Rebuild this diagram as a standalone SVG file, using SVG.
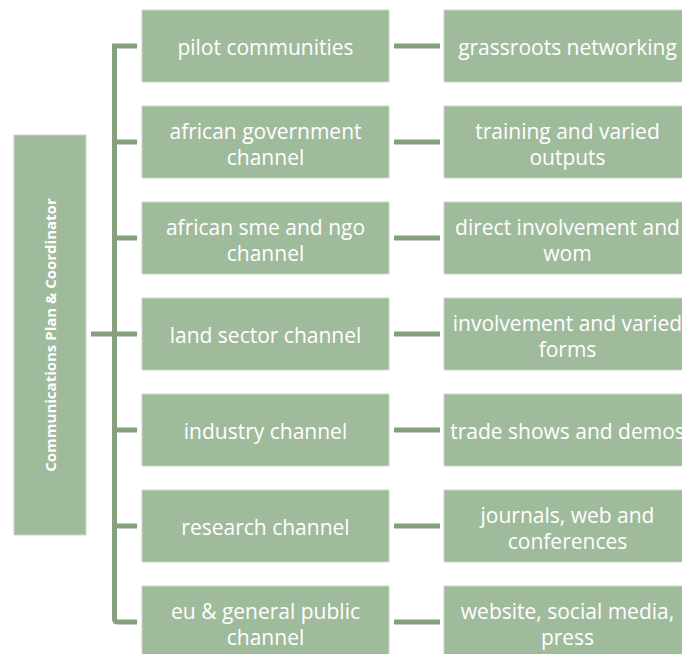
<svg xmlns="http://www.w3.org/2000/svg" width="682" height="654" viewBox="0 0 682 654">
<style>
.box{fill:#a0bb9c;stroke:#c9d8c6;stroke-width:1}
.t{fill:#ffffff;font-family:"Open Sans","DejaVu Sans",sans-serif;font-size:21px;text-anchor:middle}
.v{fill:#ffffff;font-family:"Open Sans","DejaVu Sans",sans-serif;font-size:15px;font-weight:bold;text-anchor:middle}
.c{fill:none;stroke:#84a07f;stroke-width:5}
</style>
<rect width="682" height="654" fill="#ffffff"/>
<g id="connectors">
<path class="c" d="M137,46 H114.5 V619 Q114.5,622 118,622 H137"/>
<path class="c" d="M91,334 H137"/>
<path class="c" d="M114,142 H137 M114,238 H137 M114,430 H137 M114,526 H137"/>
<path class="c" d="M394,46 H440 M394,142 H440 M394,238 H440 M394,334 H440 M394,430 H440 M394,526 H440 M394,622 H440"/>
</g>
<g id="root"><rect class="box" x="14" y="135" width="72" height="400"/><text class="v" transform="translate(56,335) rotate(-90)">Communications Plan &amp; Coordinator</text></g>
<g id="n1"><rect class="box" x="142" y="10" width="247" height="72"/><text class="t" x="265.5" y="55">pilot communities</text></g>
<g id="n2"><rect class="box" x="142" y="106" width="247" height="72"/><text class="t" x="265.5" y="139">african government</text><text class="t" x="265.5" y="165">channel</text></g>
<g id="n3"><rect class="box" x="142" y="202" width="247" height="72"/><text class="t" x="265.5" y="235">african sme and ngo</text><text class="t" x="265.5" y="261">channel</text></g>
<g id="n4"><rect class="box" x="142" y="298" width="247" height="72"/><text class="t" x="265.5" y="343">land sector channel</text></g>
<g id="n5"><rect class="box" x="142" y="394" width="247" height="72"/><text class="t" x="265.5" y="439">industry channel</text></g>
<g id="n6"><rect class="box" x="142" y="490" width="247" height="72"/><text class="t" x="265.5" y="535">research channel</text></g>
<g id="n7"><rect class="box" x="142" y="586" width="247" height="72"/><text class="t" x="265.5" y="619">eu &amp; general public</text><text class="t" x="265.5" y="645">channel</text></g>
<g id="m1"><rect class="box" x="444" y="10" width="247" height="72"/><text class="t" x="567.5" y="55">grassroots networking</text></g>
<g id="m2"><rect class="box" x="444" y="106" width="247" height="72"/><text class="t" x="567.5" y="139">training and varied</text><text class="t" x="567.5" y="165">outputs</text></g>
<g id="m3"><rect class="box" x="444" y="202" width="247" height="72"/><text class="t" x="567.5" y="235">direct involvement and</text><text class="t" x="567.5" y="261">wom</text></g>
<g id="m4"><rect class="box" x="444" y="298" width="247" height="72"/><text class="t" x="567.5" y="331">involvement and varied</text><text class="t" x="567.5" y="357">forms</text></g>
<g id="m5"><rect class="box" x="444" y="394" width="247" height="72"/><text class="t" x="567.5" y="439">trade shows and demos</text></g>
<g id="m6"><rect class="box" x="444" y="490" width="247" height="72"/><text class="t" x="567.5" y="523">journals, web and</text><text class="t" x="567.5" y="549">conferences</text></g>
<g id="m7"><rect class="box" x="444" y="586" width="247" height="72"/><text class="t" x="567.5" y="619">website, social media,</text><text class="t" x="567.5" y="645">press</text></g>
</svg>
